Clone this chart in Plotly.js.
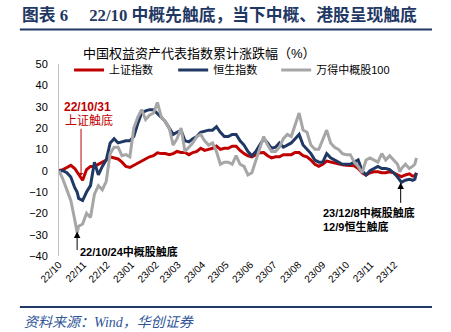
<!DOCTYPE html>
<html><head><meta charset="utf-8">
<script src="https://cdn.plot.ly/plotly-3.0.1.min.js"></script>
<style>html,body{margin:0;padding:0;background:#fff}#chart{width:451px;height:332px}</style>
</head><body><div id="chart"></div>
<script>
const dates = ['2022-10-01','2022-10-06','2022-10-11','2022-10-16','2022-10-21','2022-10-24','2022-10-26','2022-10-31','2022-11-05','2022-11-10','2022-11-15','2022-11-20','2022-11-25','2022-11-30','2022-12-05','2022-12-10','2022-12-15','2022-12-20','2022-12-25','2022-12-30','2023-01-04','2023-01-09','2023-01-14','2023-01-19','2023-01-24','2023-01-29','2023-02-03','2023-02-08','2023-02-13','2023-02-18','2023-02-23','2023-02-28','2023-03-05','2023-03-10','2023-03-15','2023-03-20','2023-03-25','2023-03-30','2023-04-04','2023-04-09','2023-04-14','2023-04-19','2023-04-24','2023-04-29','2023-05-04','2023-05-09','2023-05-14','2023-05-19','2023-05-24','2023-05-29','2023-06-03','2023-06-08','2023-06-13','2023-06-18','2023-06-23','2023-06-28','2023-07-03','2023-07-08','2023-07-13','2023-07-18','2023-07-23','2023-07-28','2023-08-02','2023-08-07','2023-08-12','2023-08-17','2023-08-22','2023-08-27','2023-09-01','2023-09-06','2023-09-11','2023-09-16','2023-09-21','2023-09-26','2023-10-01','2023-10-06','2023-10-11','2023-10-16','2023-10-21','2023-10-26','2023-10-31','2023-11-05','2023-11-10','2023-11-15','2023-11-20','2023-11-25','2023-11-30','2023-12-05','2023-12-08','2023-12-10','2023-12-15','2023-12-20','2023-12-24','2023-12-27','2023-12-29'];

const shIndex = [0,0.5,1.5,2.5,1,-0.5,-2,-4.5,0.5,2,2,3,3.8,5,6.5,6,5.5,4,2,1.5,2.5,3.8,4.5,5.5,6.5,7,8.4,8,8,7.5,8,9,8.5,8.5,7.5,8.5,9,10.5,9.5,10,10.5,11.5,10,10.5,10.5,11.5,11.5,9.5,8,7,6.5,7.5,8.4,8.5,7,6,6.5,6.5,7.5,7.5,7.5,8.5,8.5,7,6.5,5,3,2,3,4.5,4,3.5,3,2.8,2.5,2.5,2.3,1,-1,-2,-1,-0.5,-0.5,-1,-1,-0.5,-1,-2,-2.5,-2.8,-2,-1.5,-2.5,-2.5,-1];

const hsIndex = [0,0,-1,-3,-8,-10,-13,-14,-10,-7,4,-2,2,5,13,15,13,13.5,14,14,16,22,27,28,28.6,28.6,27,25,23,20,17,18,19,14,13.5,15,16,18,18.5,19,19,20.6,18,16,16,17,17,14,12,9,7,9,12,15,13,10.5,11,13,11,12,13,15,17,12,10,8,5,4,4,8,6,5,4,3,3,3,4,5,0,-2,0,1,2,1,1,0.5,-1,-3,-4.5,-5.5,-4.5,-4,-4.5,-4,-1];

const ccIndex = [0,-4,-9,-14,-23,-29,-26,-25,-20,-22,-11,-7,-9,-5,8,11,11,7,7.5,6.5,20,25,28.6,24,26,27,32,25,23,20,12,15,20,9,11,13,16,17,14,12,13,9,3,4,4,3,7,3,2,-2,-1,5,10,16,12,9,9,11,15,17,16,21,27,19,18,12,10,10,15,19,13,11,10,8,7.5,7.5,4,2,-1,5,6,5,4,8,5,7,5,3,-0.5,1,3,1,2,3,6];

const seriesNames = ['上证指数','恒生指数','万得中概股100'];
const seriesColors = ['#C00000','#1F3864','#A6A6A6'];
const yTicks = [-40,-30,-20,-10,0,10,20,30,40,50];

const cjk = 'Liberation Sans, Noto Sans CJK SC, sans-serif';
const vals = [shIndex, hsIndex, ccIndex];
const legendIds = ['legend','legend2','legend3'];
const traces = vals.map((v,i)=>({
  x: dates, y: v, type:'scatter', mode:'lines', name: seriesNames[i], legend: legendIds[i],
  line:{color: seriesColors[i], width:3}
}));

function leg(x){
  return {orientation:'h', x:x, y:0.969, xanchor:'left', yanchor:'middle',
    font:{family:cjk, size:11, color:'#000'}, itemwidth:30, bgcolor:'rgba(0,0,0,0)'};
}
const xRange = ['2022-10-01','2023-12-31'];
const layout = {
  width:451, height:332,
  margin:{l:59, r:33, t:64, b:76},
  paper_bgcolor:'#fff', plot_bgcolor:'#fff',
  showlegend:true,
  legend: leg(0.028), legend2: leg(0.318), legend3: leg(0.605),
  xaxis:{type:'date', range:xRange, dtick:'M1', tick0:'2022-10-01',
    tickformat:'%y/%m', tickangle:-45, showgrid:false, showline:false, zeroline:false, ticks:'',
    tickfont:{family:'Liberation Sans, Arial', size:10, color:'#000'}},
  xaxis2:{type:'date', overlaying:'x', anchor:'free', position:40/90, range:xRange,
    dtick:'M1', tick0:'2022-10-01', showticklabels:false, showgrid:false, zeroline:false,
    showline:true, linecolor:'#A6A6A6', linewidth:1, ticks:'outside', ticklen:3, tickcolor:'#A6A6A6'},
  yaxis:{range:[-40,50], tickvals:yTicks, showgrid:false, zeroline:false, showline:true,
    linecolor:'#BFBFBF', linewidth:1, ticks:'', ticklabelstandoff:8,
    tickfont:{family:'Liberation Sans, Arial', size:11, color:'#000'}},
  shapes:[
    {type:'line', xref:'paper', yref:'paper', x0:-0.109, x1:1.039, y0:1.18, y1:1.18, line:{color:'#1F3864', width:2}},
    {type:'line', xref:'paper', yref:'paper', x0:-0.109, x1:1.039, y0:-0.266, y1:-0.266, line:{color:'#1F3864', width:2}}
  ],
  annotations:[
    {xref:'paper', yref:'paper', x:-0.109, y:1.255, xanchor:'left', yanchor:'middle', showarrow:false,
      text:'<b>图表 6　 22/10 中概先触底，当下中概、港股呈现触底</b>',
      font:{family:'Liberation Serif, Noto Sans CJK SC, serif', size:16.8, color:'#1F3864'}},
    {xref:'paper', yref:'paper', x:0.392, y:1.057, xanchor:'center', yanchor:'middle', showarrow:false,
      text:'中国权益资产代表指数累计涨跌幅（%）', font:{family:cjk, size:13, color:'#000'}},
    {xref:'paper', yref:'paper', x:-0.103, y:-0.344, xanchor:'left', yanchor:'middle', showarrow:false,
      text:'<i>资料来源：Wind，华创证券</i>', font:{family:'Liberation Serif, Noto Sans CJK SC, serif', size:14, color:'#2F5597'}},
    {xref:'paper', yref:'paper', x:0.078, y:0.776, xanchor:'center', yanchor:'middle', showarrow:false,
      text:'<b>22/10/31</b>', font:{family:cjk, size:12, color:'#C00000'}},
    {xref:'paper', yref:'paper', x:0.083, y:0.708, xanchor:'center', yanchor:'middle', showarrow:false,
      text:'上证触底', font:{family:cjk, size:12, color:'#C00000'}},
    {xref:'x', yref:'y', x:'2022-10-29', y:-2.2, ax:0, ay:-48, text:'', showarrow:true,
      arrowhead:1, arrowsize:0.8, arrowwidth:1, arrowcolor:'#C00000'},
    {xref:'paper', yref:'paper', x:0.053, y:0.026, xanchor:'left', yanchor:'middle', showarrow:false,
      text:'<b>22/10/24中概股触底</b>', font:{family:cjk, size:11, color:'#000'}},
    {xref:'x', yref:'y', x:'2022-10-24', y:-28.5, ax:0, ay:20, text:'', showarrow:true,
      arrowhead:2, arrowsize:1.3, arrowwidth:1, arrowcolor:'#000'},
    {xref:'paper', yref:'paper', x:0.731, y:0.229, xanchor:'left', yanchor:'middle', showarrow:false,
      text:'<b>23/12/8中概股触底</b>', font:{family:cjk, size:11, color:'#000'}},
    {xref:'paper', yref:'paper', x:0.731, y:0.156, xanchor:'left', yanchor:'middle', showarrow:false,
      text:'<b>12/9恒生触底</b>', font:{family:cjk, size:11, color:'#000'}},
    {xref:'x', yref:'y', x:'2023-12-09', y:-5.5, ax:0, ay:22, text:'', showarrow:true,
      arrowhead:2, arrowsize:1.3, arrowwidth:1, arrowcolor:'#000'}
  ]
};
Plotly.newPlot('chart', traces, layout, {staticPlot:true, displayModeBar:false});
</script></body></html>
